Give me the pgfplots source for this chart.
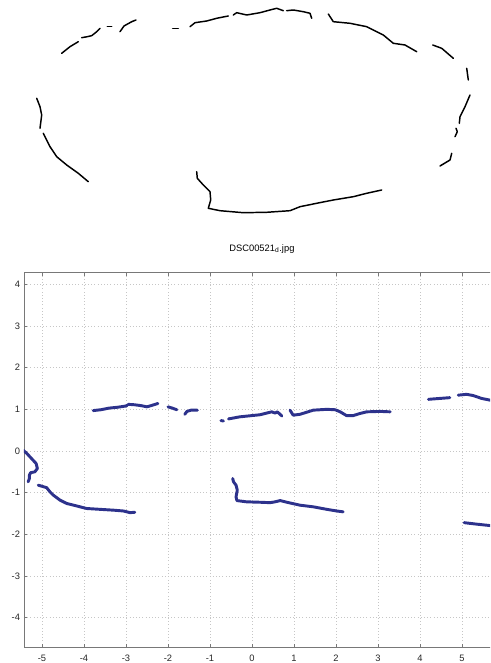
\documentclass[border=0pt]{standalone}
\usepackage{pgfplots}
\pgfplotsset{compat=1.18}
\usepackage{fontspec}
\setmainfont{Liberation Sans}
\definecolor{lineblue}{RGB}{45,50,140}
\definecolor{axgray}{RGB}{120,120,120}
\tikzset{
  blk/.style={black, line width=1.1pt, line join=round, line cap=round, mark=none},
  blu/.style={lineblue, line width=2.2pt, line join=round, line cap=round, mark=none},
}
\begin{document}
\begin{tikzpicture}
\useasboundingbox (0,0) rectangle (367.5pt,497.25pt);
\clip (0,0) rectangle (367.5pt,497.25pt);
% ---------- top: contour drawing (pixel coordinates) ----------
\begin{axis}[
  at={(0pt,324.75pt)}, anchor=south west,
  x=0.75pt, y=0.75pt,
  xmin=0, xmax=490, ymin=0, ymax=230,
  y dir=reverse,
  hide axis,
]
\addplot[blk] coordinates {(61.7,53.3) (70,46.7) (78.3,41.7)};
\addplot[blk] coordinates {(81.7,37.7) (87.3,36.7) (91.7,35.7) (96.7,31.7) (100,28.3)};
\addplot[blk] coordinates {(107.3,26.7) (111.7,26.7)};
\addplot[blk] coordinates {(120,31.7) (124,26) (131.7,21.7) (136,20)};
\addplot[blk] coordinates {(172.7,28.3) (178.3,28.3)};
\addplot[blk] coordinates {(190,26.7) (195,22.7) (206.7,21) (216.7,18.3) (228.3,16)};
\addplot[blk] coordinates {(233.3,15) (236.7,12.7) (246.7,15) (260,12.7) (270,10) (276.7,8.3) (283.3,10.7)};
\addplot[blk] coordinates {(286.7,10.7) (293.3,10) (303.3,11.7) (310,13.3) (311.7,18.3)};
\addplot[blk] coordinates {(328.3,14) (333.3,21.7) (350,23.3) (366.7,26.7) (383.3,35) (393.3,43.3) (405,45) (416.7,51.7)};
\addplot[blk] coordinates {(432.7,45) (441.7,48.3) (453.3,58.3)};
\addplot[blk] coordinates {(466.7,68.3) (468.3,80)};
\addplot[blk] coordinates {(470,95) (465,106.7) (460,116.7) (459.3,123.3)};
\addplot[blk] coordinates {(456,128.3) (457.3,131.7) (455,136.7)};
\addplot[blk] coordinates {(451.7,153.3) (450,160) (440,166)};
\addplot[blk] coordinates {(196.7,171.7) (197.3,178.3) (203.3,185) (210,191.7) (210.7,200) (208.3,208.3) (220,210.7) (243.3,212.7) (266.7,212.3) (290,210.7) (300,206.7) (316.7,203.3) (333.3,200) (353.3,196.7) (366.7,193.3) (381.7,190)};
\addplot[blk] coordinates {(36.7,98.3) (40,106.7) (41.7,115) (40,128.3)};
\addplot[blk] coordinates {(43.3,133.3) (50,146.7) (56.7,156.7) (66.7,165) (78.3,173.3) (88.3,181.7)};
\end{axis}
% ---------- bottom: plot ----------
\begin{axis}[
  at={(18pt,11.78pt)}, anchor=south west,
  x=31.5pt, y=31.25pt,
  xmin=-5.4286, xmax=5.9, ymin=-4.711, ymax=4.279,
  axis line style={axgray, line width=0.6pt},
  tick style={axgray, line width=0.5pt},
  major tick length=2.5pt,
  tick align=inside,
  xtick pos=both, ytick pos=left,
  xtick={-5,-4,-3,-2,-1,0,1,2,3,4,5},
  xticklabels={-5,-4,-3,-2,-1,0,1,2,3,4,5},
  ytick={-4,-3,-2,-1,0,1,2,3,4},
  yticklabels={-4,-3,-2,-1,0,1,2,3,4},
  ticklabel style={font=\fontsize{7}{8}\selectfont, text=black!85},
  xticklabel style={yshift=-2pt},
  yticklabel style={xshift=0.5pt},
  grid=major,
  major grid style={gray!45, dotted, line width=0.5pt},
  title={DSC00521\textsubscript{d}.jpg},
  title style={at={(0.5,1)}, anchor=base, yshift=10pt, font=\fontsize{7}{8}\selectfont},
]
\addplot[blu] coordinates {(-3.78,0.97) (-3.6,0.99) (-3.4,1.03) (-3.2,1.05) (-3.0,1.08) (-2.97,1.1)};
\addplot[blu] coordinates {(-2.95,1.12) (-2.8,1.11) (-2.65,1.09) (-2.5,1.06) (-2.4,1.09) (-2.24,1.14)};
\addplot[blu] coordinates {(-2.0,1.06) (-1.9,1.03) (-1.79,0.99)};
\addplot[blu] coordinates {(-1.6,0.88) (-1.55,0.95) (-1.45,0.98) (-1.3,0.98)};
\addplot[blu] coordinates {(-0.74,0.73) (-0.68,0.72)};
\addplot[blu] coordinates {(-0.56,0.77) (-0.29,0.82) (-0.05,0.845) (0.19,0.87) (0.35,0.91) (0.47,0.94) (0.55,0.91) (0.6,0.94) (0.67,0.88) (0.71,0.84)};
\addplot[blu] coordinates {(0.905,0.98) (0.98,0.86) (1.14,0.88) (1.46,0.98) (1.78,1.0) (1.98,0.99) (2.1,0.94) (2.25,0.85) (2.41,0.85) (2.57,0.9) (2.73,0.94) (3.05,0.95) (3.29,0.94)};
\addplot[blu] coordinates {(4.2,1.24) (4.45,1.26) (4.71,1.28)};
\addplot[blu] coordinates {(4.91,1.34) (5.11,1.36) (5.27,1.33) (5.47,1.26) (5.67,1.22) (5.9,1.2)};
\addplot[blu] coordinates {(-5.45,0.02) (-5.36,-0.06) (-5.25,-0.18) (-5.14,-0.30) (-5.11,-0.42) (-5.17,-0.50) (-5.27,-0.52) (-5.30,-0.58) (-5.30,-0.66) (-5.33,-0.74)};
\addplot[blu] coordinates {(-5.09,-0.82) (-4.89,-0.88) (-4.81,-0.98) (-4.73,-1.06) (-4.57,-1.18) (-4.41,-1.26) (-4.17,-1.32) (-3.94,-1.38) (-3.62,-1.40) (-3.30,-1.42) (-3.06,-1.44) (-2.90,-1.48) (-2.79,-1.47)};
\addplot[blu] coordinates {(-0.46,-0.66) (-0.44,-0.74) (-0.38,-0.82) (-0.35,-0.94) (-0.38,-1.10) (-0.36,-1.19) (-0.13,-1.22) (0.19,-1.23) (0.43,-1.24) (0.55,-1.22) (0.67,-1.19) (0.83,-1.23) (1.14,-1.30) (1.46,-1.34) (1.78,-1.40) (2.02,-1.44) (2.17,-1.46)};
\addplot[blu] coordinates {(5.05,-1.72) (5.3,-1.75) (5.67,-1.79) (5.9,-1.8)};
\end{axis}
\end{tikzpicture}
\end{document}
